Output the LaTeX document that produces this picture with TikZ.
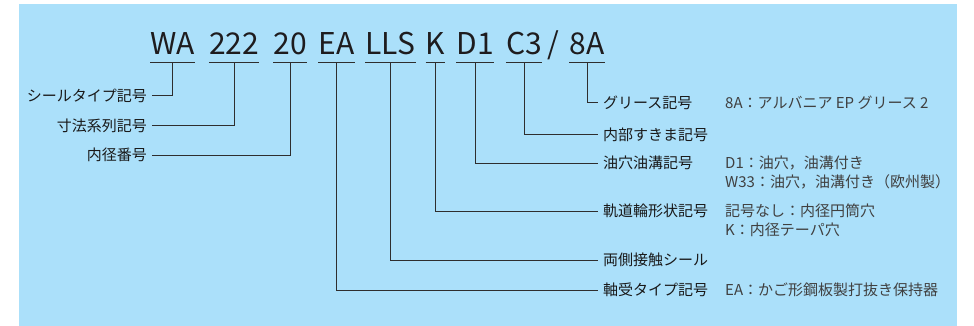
\documentclass[tikz,border=0pt]{standalone}
\usepackage{fontspec}
\setmainfont{Noto Sans CJK JP}
\usetikzlibrary{positioning,backgrounds}
\definecolor{bgblue}{RGB}{171,224,250}
\definecolor{ink}{RGB}{30,28,30}
% two lines, baseline on the first one
\newcommand\twolines[2]{\vtop{\hbox{#1}\hbox{#2}}}
\tikzset{
    %Define style for the code letters
    code/.style={
           anchor=base,
           inner xsep=0pt,
           inner ysep=0pt,
           text depth=7pt,
           font=\fontsize{30}{30}\selectfont,
           text=ink},
    %Define style for names on the left
    lname/.style={
           anchor=east,
           inner xsep=5pt,
           inner ysep=0pt,
           text height=12.5pt,
           text depth=1.5pt,
           font=\fontsize{15}{19}\selectfont,
           text=black!90},
    %Define style for names on the right
    rname/.style={
           lname,
           anchor=west},
    %Define style for the explanations
    expl/.style={
           anchor=base west,
           inner sep=0pt,
           font=\fontsize{15}{19}\selectfont,
           text=black!75},
    % Define line style
    pil/.style={
           draw=black!82,
           line width=1pt}
}

\begin{document}
\begin{tikzpicture}[x=1pt,y=-1pt]
\useasboundingbox (0,0) rectangle (974,326);
\fill[bgblue] (19,4) rectangle (957,326);
 %code
\node[code] (wa) at (172.5,55) {WA};
\node[code] (dim) at (234,55) {222};
\node[code] (bore) at (290,55) {20};
\node[code] (cage) at (336.5,55) {EA};
\node[code] (seal) at (390.5,55) {LLS};
\node[code] (taper) at (435.5,55) {K};
\node[code] (oil) at (475,55) {D1};
\node[code] (clr) at (524,55) {C3};
\node[code] (slash) at (553,55) {/};
\node[code] (grs) at (587,55) {8A};
\foreach \n in {wa,dim,bore,cage,seal,taper,oil,clr,grs}
  \draw[pil] (\n.south west) -- (\n.south east);
 %names
\node[lname] (lseal) at (152,96) {シールタイプ記号};
\node[lname] (ldim) at (152,126) {寸法系列記号};
\node[lname] (lbore) at (152,155) {内径番号};
\node[rname] (rgrs) at (598,103) {グリース記号};
\node[rname] (rclr) at (598,135) {内部すきま記号};
\node[rname] (roil) at (598,163) {油穴油溝記号};
\node[rname] (rtaper) at (598,211) {軌道輪形状記号};
\node[rname] (rseal) at (598,260) {両側接触シール};
\node[rname] (rcage) at (598,290) {軸受タイプ記号};
 %explanations
\coordinate (ex) at (725,0);
\node[expl] (egrs) at (rgrs.base -| ex) {8A：アルバニア EP グリース 2};
\node[expl] (eoil) at (roil.base -| ex) {\twolines{D1：油穴，油溝付き}{W33：油穴，油溝付き（欧州製）}};
\node[expl] (etaper) at (rtaper.base -| ex) {\twolines{記号なし：内径円筒穴}{K：内径テーパ穴}};
\node[expl] (ecage) at (rcage.base -| ex) {EA：かご形鋼板製打抜き保持器};
 %lines
\draw[pil] (wa.south) |- (lseal.east);
\draw[pil] (dim.south) |- (ldim.east);
\draw[pil] (bore.south) |- (lbore.east);
\draw[pil] (grs.south) |- (rgrs.west);
\draw[pil] (clr.south) |- (rclr.west);
\draw[pil] (oil.south) |- (roil.west);
\draw[pil] (taper.south) |- (rtaper.west);
\draw[pil] (seal.south) |- (rseal.west);
\draw[pil] (cage.south) |- (rcage.west);
\end{tikzpicture}
\end{document}
